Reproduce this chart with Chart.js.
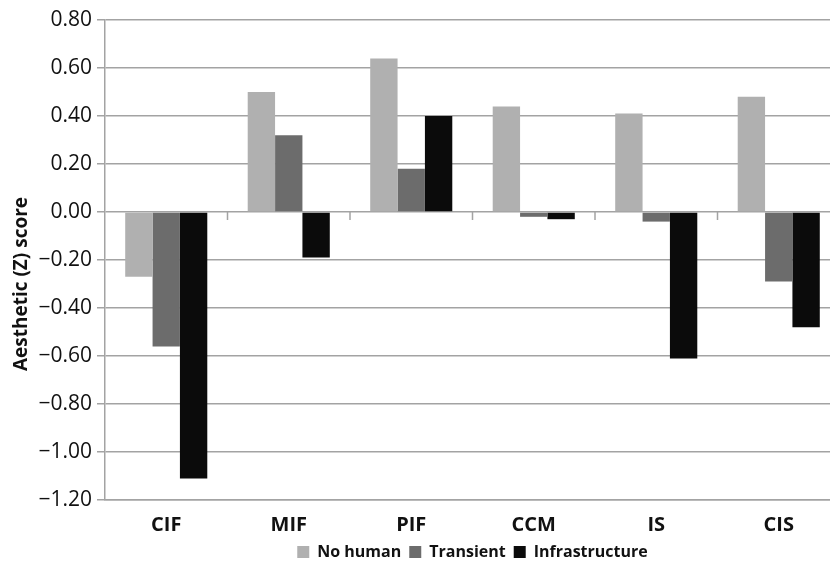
<!DOCTYPE html>
<html>
<head>
<meta charset="utf-8">
<script src="https://cdn.jsdelivr.net/npm/chart.js@4.4.0/dist/chart.umd.min.js"></script>
<style>
  html, body { margin: 0; padding: 0; background: #fff; overflow: hidden; }
  #wrap { width: 840px; height: 570px; }
</style>
</head>
<body>
<div id="wrap"><canvas id="chart"></canvas></div>
<script>
// Data
const categories = ['CIF', 'MIF', 'PIF', 'CCM', 'IS', 'CIS'];
const noHuman = [-0.27, 0.50, 0.64, 0.44, 0.41, 0.48];
const transient = [-0.56, 0.32, 0.18, -0.02, -0.04, -0.29];
const infrastructure = [-1.11, -0.19, 0.40, -0.03, -0.61, -0.48];
const yTicks = [0.8, 0.6, 0.4, 0.2, 0, -0.2, -0.4, -0.6, -0.8, -1.0, -1.2];
const yTitle = 'Aesthetic (Z) score';

const gridGrey = '#a3a3a3';

// short tick marks on the zero line between categories
const zeroTicks = {
    id: 'zeroTicks',
    afterDatasetsDraw(chart) {
        const x = chart.scales.x;
        const y = chart.scales.y;
        const ctx = chart.ctx;
        const y0 = y.getPixelForValue(0);
        const half = (x.getPixelForValue(1) - x.getPixelForValue(0)) / 2;
        ctx.save();
        ctx.strokeStyle = gridGrey;
        ctx.lineWidth = 1.5;
        for (let i = 1; i < categories.length; i++) {
            const px = x.getPixelForValue(i) - half;
            ctx.beginPath();
            ctx.moveTo(px, y0);
            ctx.lineTo(px, y0 + 8);
            ctx.stroke();
        }
        ctx.restore();
    }
};

// y axis title, sits a little below the middle like the original
const sideTitle = {
    id: 'sideTitle',
    afterDraw(chart) {
        const area = chart.chartArea;
        const ctx = chart.ctx;
        ctx.save();
        ctx.translate(22, (area.top + area.bottom) / 2 + 24);
        ctx.rotate(-Math.PI / 2);
        ctx.fillStyle = '#111';
        ctx.font = 'bold 19px "Open Sans"';
        ctx.textAlign = 'center';
        ctx.textBaseline = 'middle';
        ctx.fillText(yTitle, 0, 0);
        ctx.restore();
    }
};

new Chart(document.getElementById('chart'), {
    type: 'bar',
    data: {
        labels: categories,
        datasets: [
            { label: 'No human', data: noHuman, backgroundColor: '#b0b0b0' },
            { label: 'Transient', data: transient, backgroundColor: '#6c6c6c' },
            { label: 'Infrastructure', data: infrastructure, backgroundColor: '#0b0b0b' }
        ]
    },
    options: {
        responsive: true,
        maintainAspectRatio: false,
        animation: false,
        layout: { padding: { top: 20, right: 0, left: 0, bottom: 0 } },
        datasets: {
            bar: { categoryPercentage: 0.67, barPercentage: 1.0, borderWidth: 0 }
        },
        plugins: {
            tooltip: { enabled: false },
            legend: {
                position: 'bottom',
                fullSize: false,
                labels: {
                    color: '#111',
                    font: { family: 'Open Sans', size: 16, weight: 'bold' },
                    boxWidth: 12,
                    boxHeight: 12,
                    padding: 8
                }
            }
        },
        scales: {
            x: {
                grid: { display: false },
                border: { color: gridGrey, width: 1.5 },
                ticks: {
                    color: '#111',
                    padding: 5,
                    font: { family: 'Open Sans', size: 20, weight: 'bold' }
                },
                afterFit(scale) { scale.height = 36; }
            },
            y: {
                min: -1.2,
                max: 0.8,
                afterBuildTicks(scale) {
                    scale.ticks = yTicks.map(v => ({ value: v }));
                },
                grid: { color: gridGrey, lineWidth: 1.5, tickLength: 8 },
                border: { color: gridGrey, width: 1.5 },
                ticks: {
                    color: '#111',
                    padding: 5,
                    font: { family: 'Open Sans', size: 21 },
                    callback(v) {
                        const s = Math.abs(v).toFixed(2);
                        return v < -0.001 ? '\u2212' + s : s;
                    }
                },
                afterFit(scale) { scale.width = 105; }
            }
        }
    },
    plugins: [zeroTicks, sideTitle]
});
</script>
</body>
</html>
